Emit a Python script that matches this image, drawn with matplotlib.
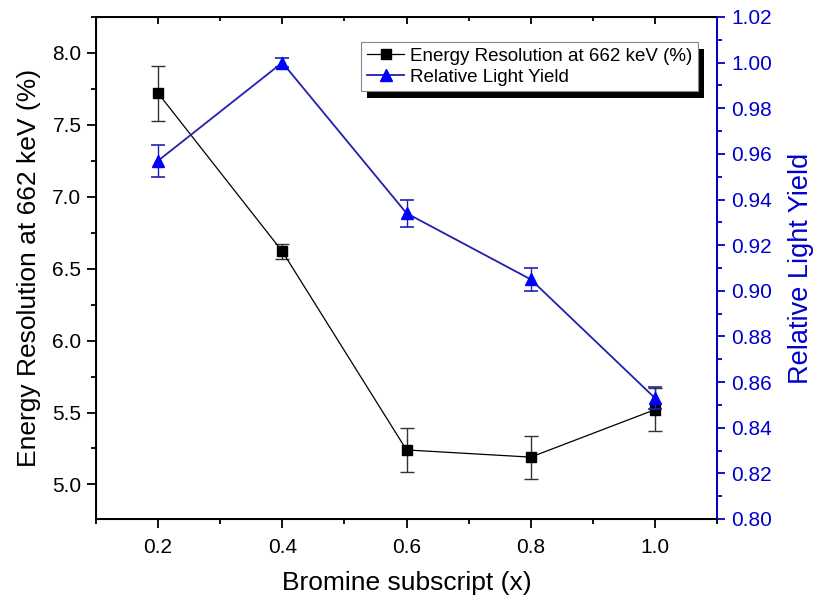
import matplotlib.pyplot as plt
from matplotlib.ticker import MultipleLocator
from matplotlib.patches import Rectangle
from matplotlib.lines import Line2D

plt.rcParams['font.family'] = ['Liberation Sans', 'DejaVu Sans']

x = [0.2, 0.4, 0.6, 0.8, 1.0]
res = [7.72, 6.62, 5.24, 5.19, 5.52]
res_err = [0.19, 0.05, 0.15, 0.15, 0.15]
ly = [0.957, 1.000, 0.934, 0.905, 0.853]
ly_err = [0.007, 0.002, 0.006, 0.005, 0.005]

blue = '#0000cc'
line_blue = '#2020b0'

fig = plt.figure(figsize=(8.15, 6.06), dpi=100)
ax = fig.add_axes([0.1178, 0.1436, 0.7620, 0.8284])
ax2 = ax.twinx()

ax.errorbar(x, res, yerr=res_err, color='black', marker='s', ms=7, lw=0.9,
            elinewidth=1, ecolor='#333333', capsize=5, capthick=1)
ax2.errorbar(x, ly, yerr=ly_err, color=line_blue, marker='^', ms=9, lw=1.3,
             mfc='#0000ff', mec='#0000ff', elinewidth=1, ecolor=line_blue,
             capsize=5, capthick=1.2)

ax.set_xlim(0.1, 1.1)
ax.set_ylim(4.76, 8.25)
ax2.set_ylim(0.80, 1.02)

ax.xaxis.set_major_locator(MultipleLocator(0.2))
ax.xaxis.set_minor_locator(MultipleLocator(0.1))
ax.yaxis.set_major_locator(MultipleLocator(0.5))
ax.yaxis.set_minor_locator(MultipleLocator(0.25))
ax2.yaxis.set_major_locator(MultipleLocator(0.02))
ax2.yaxis.set_minor_locator(MultipleLocator(0.01))
ax.xaxis.set_major_formatter(lambda v, p: f'{v:.1f}')
ax.yaxis.set_major_formatter(lambda v, p: f'{v:.1f}')
ax2.yaxis.set_major_formatter(lambda v, p: f'{v:.2f}')

for s in ax.spines.values():
    s.set_linewidth(1.4)
ax2.spines['right'].set_color(blue)
ax2.spines['right'].set_linewidth(1.4)

ax.tick_params(axis='x', which='major', direction='out', length=6.5, width=1.3,
               labelsize=15, pad=7)
ax.tick_params(axis='x', which='minor', direction='out', length=3.5, width=1.3)
ax.tick_params(axis='y', which='major', direction='out', length=6.5, width=1.3,
               labelsize=15, pad=4)
ax.tick_params(axis='y', which='minor', direction='out', length=3.5, width=1.3)
ax2.tick_params(axis='y', which='major', direction='out', length=6, width=1.3,
                colors=blue, labelsize=15, pad=4)
ax2.tick_params(axis='y', which='minor', direction='out', length=3.5, width=1.3, colors=blue)

top = ax.secondary_xaxis('top')
top.xaxis.set_major_locator(MultipleLocator(0.2))
top.xaxis.set_minor_locator(MultipleLocator(0.1))
top.tick_params(which='major', direction='in', length=5, width=1.3, labeltop=False)
top.tick_params(which='minor', direction='in', length=3, width=1.3)
top.spines['top'].set_linewidth(1.4)

ax.set_xlabel('Bromine subscript (x)', fontsize=19, labelpad=10)
ax.set_ylabel('Energy Resolution at 662 keV (%)', fontsize=19, labelpad=8)
ax2.set_ylabel('Relative Light Yield', fontsize=19.5, color=blue, labelpad=12)

h1 = Line2D([], [], color='black', marker='s', ms=7, lw=0.9)
h2 = Line2D([], [], color=line_blue, marker='^', ms=9, lw=1.3, mfc='#0000ff', mec='#0000ff')
leg = ax2.legend([h1, h2], ['Energy Resolution at 662 keV (%)', 'Relative Light Yield'],
                 loc='upper right', bbox_to_anchor=(0.969, 0.95), fontsize=13.5,
                 fancybox=False, framealpha=1, edgecolor='#888888',
                 handlelength=2.0, handletextpad=0.3, borderpad=0.3,
                 labelspacing=0.2, borderaxespad=0)
leg.get_frame().set_linewidth(0.8)
leg.set_zorder(11)

fig.canvas.draw()
bb = leg.get_window_extent()
shadow = Rectangle((bb.x0 + 6, bb.y0 - 7), bb.width, bb.height, transform=None,
                   facecolor='black', edgecolor='none', zorder=10)
ax2.add_artist(shadow)

fig.savefig('out.png', dpi=100)
